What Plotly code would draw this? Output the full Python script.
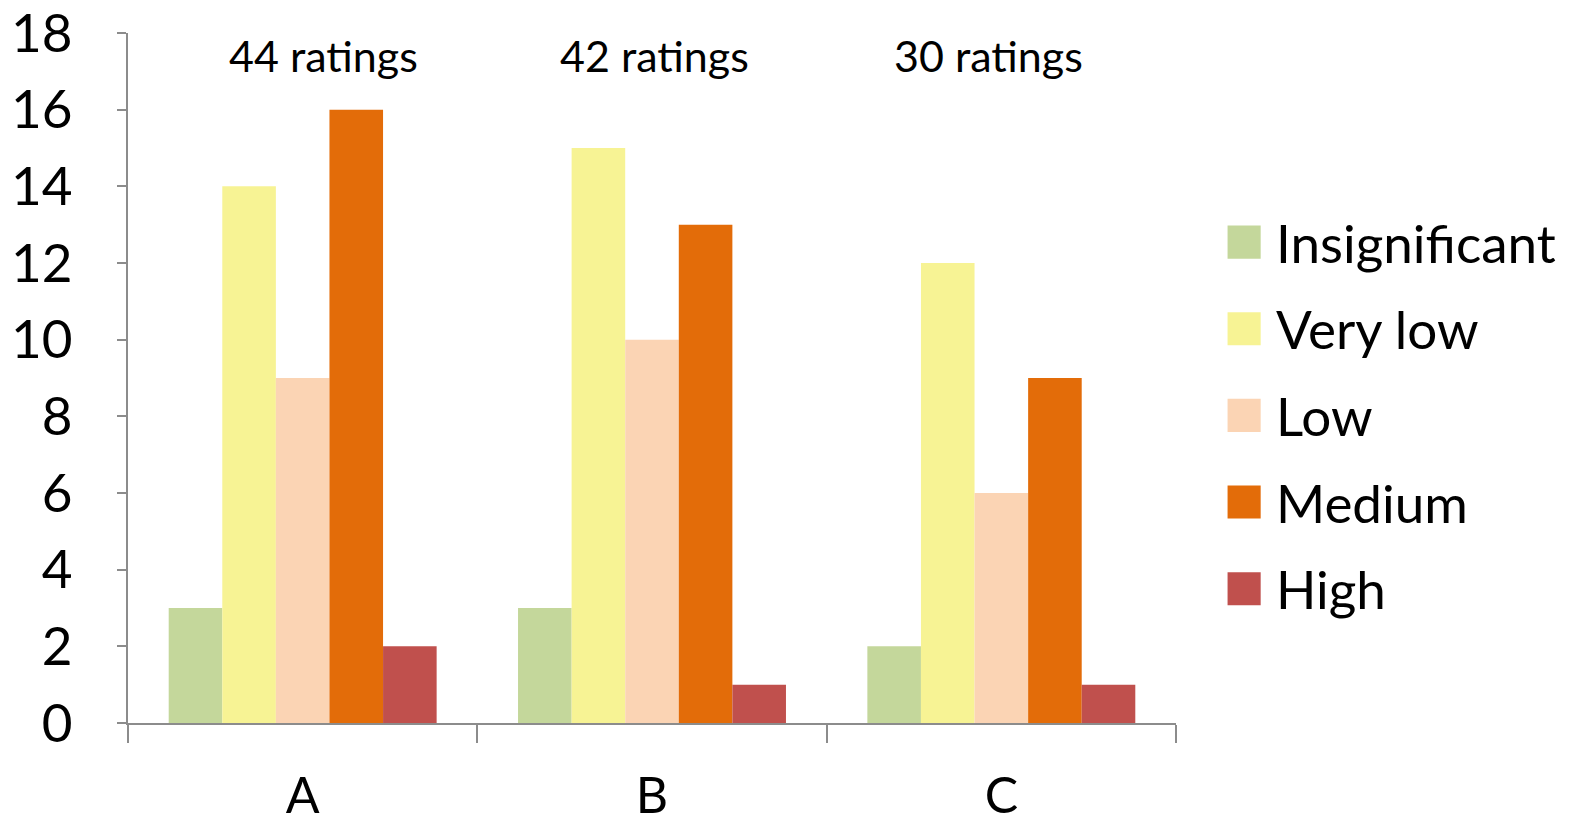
import plotly.graph_objects as go

categories = ["A", "B", "C"]
series_names = ["Insignificant", "Very low", "Low", "Medium", "High"]
insignificant = [3, 3, 2]
very_low = [14, 15, 12]
low = [9, 10, 6]
medium = [16, 13, 9]
high = [2, 1, 1]
ratings_labels = ["44 ratings", "42 ratings", "30 ratings"]
colors = ["#C4D79B", "#F7F394", "#FBD4B4", "#E36C09", "#C0504D"]
y_ticks = [0, 2, 4, 6, 8, 10, 12, 14, 16, 18]

series_values = [insignificant, very_low, low, medium, high]
FONT = "Lato"

fig = go.Figure()
for name, vals, col in zip(series_names, series_values, colors):
    fig.add_trace(go.Bar(x=categories, y=vals, name=name, marker_color=col,
                         marker_line_width=0, showlegend=False))

# ratings annotations
offsets = [0.06, 0.007, -0.038]
for i, (lab, off) in enumerate(zip(ratings_labels, offsets)):
    fig.add_annotation(x=i + off, y=17.42, xref="x", yref="y", text=lab,
                       showarrow=False, font=dict(size=43, family=FONT, color="black"))

# custom legend
leg_y0 = 0.697
leg_step = 0.1256
for i, (name, col) in enumerate(zip(series_names, colors)):
    yc = leg_y0 - i * leg_step
    fig.add_shape(type="rect", xref="paper", yref="paper",
                  x0=1.0492, x1=1.0808, y0=yc - 0.024, y1=yc + 0.024,
                  fillcolor=col, line_width=0)
    fig.add_annotation(xref="paper", yref="paper", x=1.0933, y=yc, text=name,
                       showarrow=False, xanchor="left", yanchor="middle",
                       font=dict(size=53, family=FONT, color="black"))

fig.update_layout(
    width=1576, height=818,
    margin=dict(l=128, r=400, t=33, b=95),
    barmode="group", bargap=0.233, bargroupgap=0,
    plot_bgcolor="white", paper_bgcolor="white",
    font=dict(family=FONT, color="black"),
    showlegend=False,
)
fig.update_yaxes(range=[0, 18], tickvals=y_ticks, showgrid=False, zeroline=False,
                 showline=True, linecolor="#8C8C8C", linewidth=2, automargin=False,
                 ticks="outside", ticklen=9, tickcolor="#8C8C8C", tickwidth=2,
                 tickfont=dict(size=53, family=FONT, color="black"),
                 ticklabelstandoff=34, ticklabeloverflow="allow")
fig.update_xaxes(showgrid=False, showline=True, linecolor="#8C8C8C", linewidth=2,
                 automargin=False,
                 ticks="outside", tickson="boundaries", ticklen=18,
                 tickcolor="#8C8C8C", tickwidth=2,
                 tickfont=dict(size=50, family=FONT, color="black"),
                 ticklabelstandoff=28, ticklabeloverflow="allow")

fig.write_html("out.html", config={"displayModeBar": False},
               post_script="document.body.style.margin='0';")
